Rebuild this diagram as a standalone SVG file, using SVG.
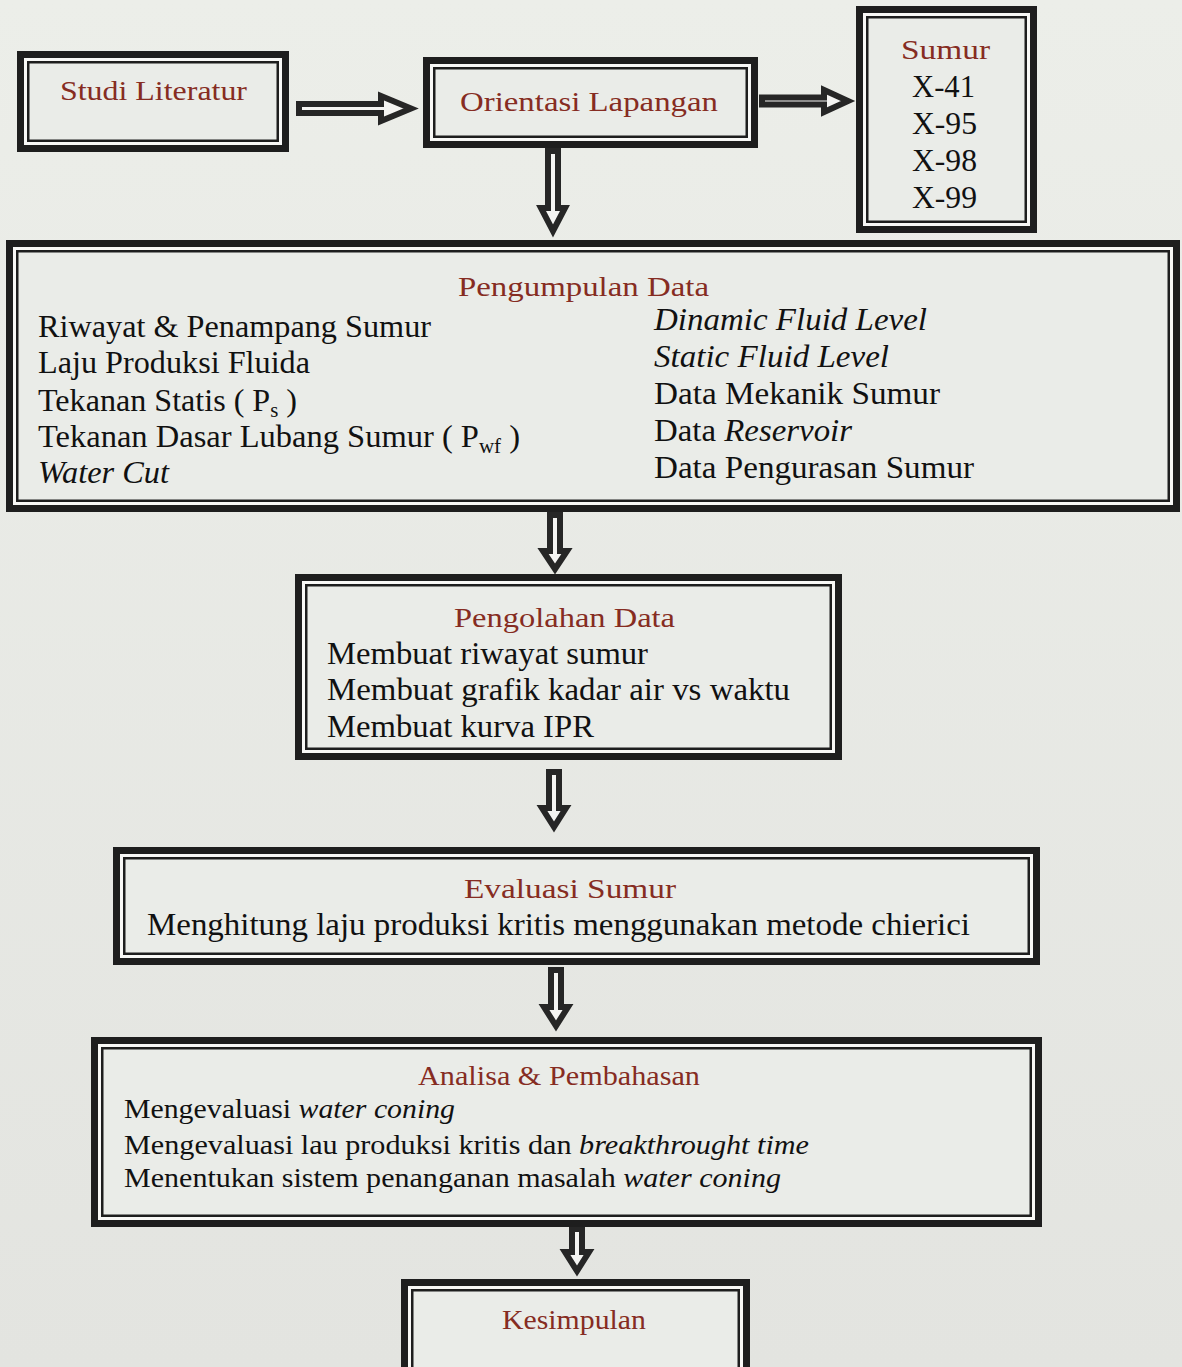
<svg xmlns="http://www.w3.org/2000/svg" width="1182" height="1367" viewBox="0 0 1182 1367">
<defs>
<linearGradient id="bg" x1="0" y1="0" x2="0" y2="1">
<stop offset="0" stop-color="#eceee9"/>
<stop offset="1" stop-color="#e3e4e0"/>
</linearGradient>
</defs>
<style>
.outer{fill:none;stroke:#1e1e1e;stroke-width:7}
.gap{fill:none;stroke:#f8f8f6;stroke-width:3}
.inner{fill:#eaece8;stroke:#1e1e1e;stroke-width:2.5}
.arrow{fill:#f4f4f2;stroke:#262626;stroke-width:6;stroke-linejoin:miter}
text{font-family:'Liberation Serif',serif}
.title{font-size:27px;fill:#862c22}
.body{font-size:31px;fill:#111}
.small{font-size:28px;fill:#111}
.it{font-style:italic}
</style>
<rect x="0" y="0" width="1182" height="1367" fill="url(#bg)"/>

<g id="connectors">
<path class="arrow" d="M299,104 H381 V96 L411,108.5 L381,121 V113 H299 Z"/>
<path class="arrow" d="M762,97.5 H824 V90 L848,101 L824,112 V104.5 H762 Z"/>
<path class="arrow" d="M548,151 V208 H541 L553,231 L565,208 H558 V151 Z"/>
<path class="arrow" d="M550,515 V551 H543 L555,569 L567,551 H560 V515 Z"/>
<path class="arrow" d="M549,772 V808 H542 L554,827 L566,808 H559 V772 Z"/>
<path class="arrow" d="M551,970 V1007 H544 L556,1026 L568,1007 H561 V970 Z"/>
<path class="arrow" d="M572,1229 V1252 H565 L577,1271 L589,1252 H582 V1229 Z"/>
</g>

<g id="studi-literatur">
<rect class="outer" x="20.5" y="54.5" width="265" height="94"/>
<rect class="gap" x="25.5" y="59.5" width="255" height="84"/>
<rect class="inner" x="28.25" y="62.25" width="249.5" height="78.5"/>
<text class="title" x="60" y="100" textLength="187" lengthAdjust="spacingAndGlyphs">Studi Literatur</text>
</g>

<g id="orientasi-lapangan">
<rect class="outer" x="426.5" y="60.5" width="328" height="84"/>
<rect class="gap" x="431.5" y="65.5" width="318" height="74"/>
<rect class="inner" x="434.25" y="68.25" width="312.5" height="68.5"/>
<text class="title" x="460" y="111" textLength="258" lengthAdjust="spacingAndGlyphs">Orientasi Lapangan</text>
</g>

<g id="sumur">
<rect class="outer" x="859.5" y="9.5" width="174" height="220"/>
<rect class="gap" x="864.5" y="14.5" width="164" height="210"/>
<rect class="inner" x="867.25" y="17.25" width="158.5" height="204.5"/>
<text class="title" x="901" y="59" textLength="89" lengthAdjust="spacingAndGlyphs">Sumur</text>
<text class="body" x="912" y="97" textLength="63" lengthAdjust="spacingAndGlyphs">X-41</text>
<text class="body" x="912" y="134" textLength="65" lengthAdjust="spacingAndGlyphs">X-95</text>
<text class="body" x="912" y="171" textLength="65" lengthAdjust="spacingAndGlyphs">X-98</text>
<text class="body" x="912" y="208" textLength="65" lengthAdjust="spacingAndGlyphs">X-99</text>
</g>

<g id="pengumpulan-data">
<rect class="outer" x="9.5" y="243.5" width="1167" height="265"/>
<rect class="gap" x="14.5" y="248.5" width="1157" height="255"/>
<rect class="inner" x="17.25" y="251.25" width="1151.5" height="249.5"/>
<text class="title" x="458" y="296" textLength="251" lengthAdjust="spacingAndGlyphs">Pengumpulan Data</text>
<text class="body" x="38" y="337" textLength="393" lengthAdjust="spacingAndGlyphs">Riwayat &amp; Penampang Sumur</text>
<text class="body" x="38" y="373" textLength="272" lengthAdjust="spacingAndGlyphs">Laju Produksi Fluida</text>
<text class="body" x="38" y="411" textLength="259" lengthAdjust="spacingAndGlyphs">Tekanan Statis ( P<tspan dy="6" font-size="20">s</tspan><tspan dy="-6"> )</tspan></text>
<text class="body" x="38" y="447" textLength="482" lengthAdjust="spacingAndGlyphs">Tekanan Dasar Lubang Sumur ( P<tspan dy="6" font-size="20">wf</tspan><tspan dy="-6"> )</tspan></text>
<text class="body it" x="38" y="483" textLength="131" lengthAdjust="spacingAndGlyphs">Water Cut</text>
<text class="body it" x="654" y="330" textLength="273" lengthAdjust="spacingAndGlyphs">Dinamic Fluid Level</text>
<text class="body it" x="654" y="367" textLength="235" lengthAdjust="spacingAndGlyphs">Static Fluid Level</text>
<text class="body" x="654" y="404" textLength="286" lengthAdjust="spacingAndGlyphs">Data Mekanik Sumur</text>
<text class="body" x="654" y="441" textLength="198" lengthAdjust="spacingAndGlyphs">Data <tspan class="it">Reservoir</tspan></text>
<text class="body" x="654" y="478" textLength="320" lengthAdjust="spacingAndGlyphs">Data Pengurasan Sumur</text>
</g>

<g id="pengolahan-data">
<rect class="outer" x="298.5" y="577.5" width="540" height="179"/>
<rect class="gap" x="303.5" y="582.5" width="530" height="169"/>
<rect class="inner" x="306.25" y="585.25" width="524.5" height="163.5"/>
<text class="title" x="454" y="627" textLength="221" lengthAdjust="spacingAndGlyphs">Pengolahan Data</text>
<text class="body" x="327" y="664" textLength="321" lengthAdjust="spacingAndGlyphs">Membuat riwayat sumur</text>
<text class="body" x="327" y="700" textLength="463" lengthAdjust="spacingAndGlyphs">Membuat grafik kadar air vs waktu</text>
<text class="body" x="327" y="737" textLength="267" lengthAdjust="spacingAndGlyphs">Membuat kurva IPR</text>
</g>

<g id="evaluasi-sumur">
<rect class="outer" x="116.5" y="850.5" width="920" height="111"/>
<rect class="gap" x="121.5" y="855.5" width="910" height="101"/>
<rect class="inner" x="124.25" y="858.25" width="904.5" height="95.5"/>
<text class="title" x="464" y="898" textLength="212" lengthAdjust="spacingAndGlyphs">Evaluasi Sumur</text>
<text class="body" x="147" y="935" textLength="823" lengthAdjust="spacingAndGlyphs">Menghitung laju produksi kritis menggunakan metode chierici</text>
</g>

<g id="analisa-pembahasan">
<rect class="outer" x="94.5" y="1040.5" width="944" height="183"/>
<rect class="gap" x="99.5" y="1045.5" width="934" height="173"/>
<rect class="inner" x="102.25" y="1048.25" width="928.5" height="167.5"/>
<text class="title" x="418" y="1085" textLength="282" lengthAdjust="spacingAndGlyphs">Analisa &amp; Pembahasan</text>
<text class="small" x="124" y="1118" textLength="331" lengthAdjust="spacingAndGlyphs">Mengevaluasi <tspan class="it">water coning</tspan></text>
<text class="small" x="124" y="1154" textLength="685" lengthAdjust="spacingAndGlyphs">Mengevaluasi lau produksi kritis dan <tspan class="it">breakthrought time</tspan></text>
<text class="small" x="124" y="1187" textLength="657" lengthAdjust="spacingAndGlyphs">Menentukan sistem penanganan masalah <tspan class="it">water coning</tspan></text>
</g>

<g id="kesimpulan">
<rect class="outer" x="404.5" y="1282.5" width="342" height="94"/>
<rect class="gap" x="409.5" y="1287.5" width="332" height="84"/>
<rect class="inner" x="412.25" y="1290.25" width="326.5" height="78.5"/>
<text class="title" x="502" y="1329" textLength="144" lengthAdjust="spacingAndGlyphs">Kesimpulan</text>
</g>
</svg>
